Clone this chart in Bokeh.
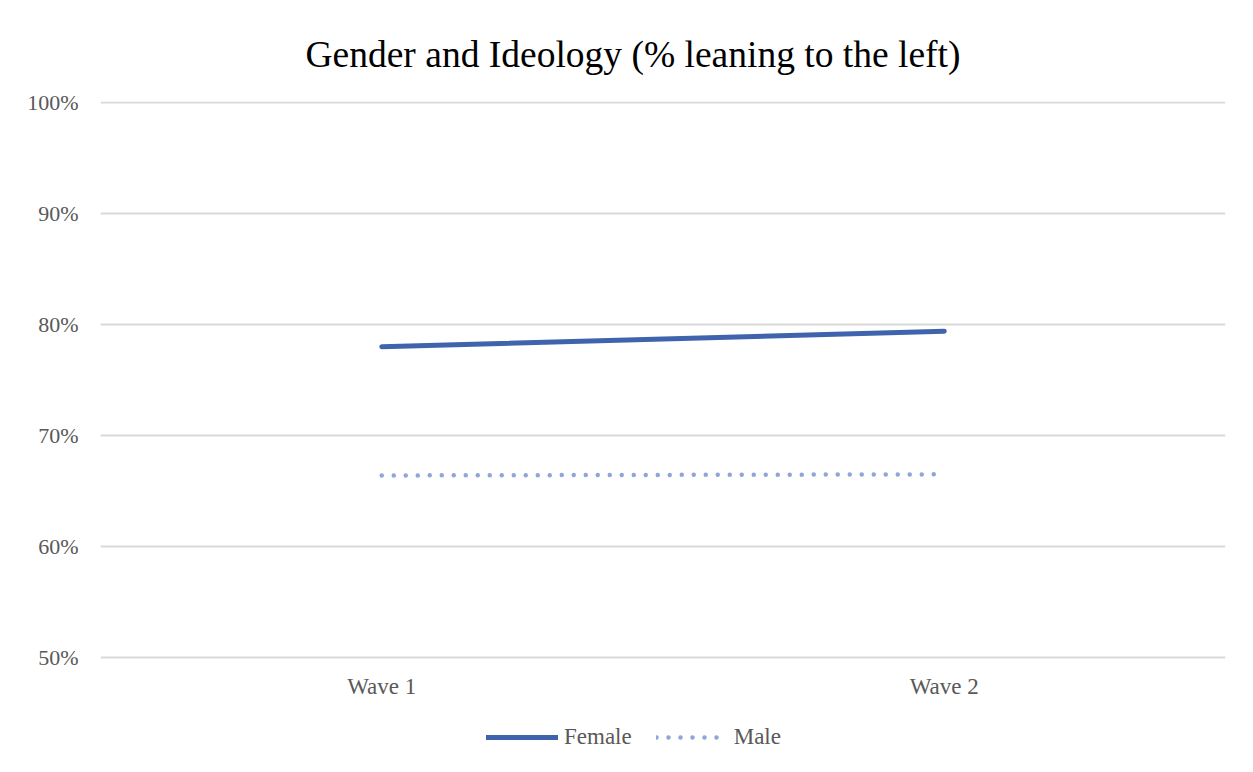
from bokeh.plotting import figure
from bokeh.models import Range1d, FixedTicker, NumeralTickFormatter, Legend, LegendItem, ColumnDataSource
from bokeh.core.properties import value
from bokeh.embed import file_html
from bokeh.resources import INLINE

waves = ["Wave 1", "Wave 2"]
female = [0.780, 0.794]
male = [0.664, 0.665]
y_ticks = [0.5, 0.6, 0.7, 0.8, 0.9, 1.0]
y_min, y_max = 0.5, 1.0

FONT = "Liberation Serif"
GRID = "#d9d9d9"
TXT = "#595959"

# frame extends below the 50% line so the category labels and legend fit inside it
p = figure(frame_width=1125, frame_height=671, x_range=waves,
           y_range=Range1d(0.3964, 1.0009),
           output_backend="svg", toolbar_location=None,
           min_border_left=100, min_border_right=28, min_border_top=101, min_border_bottom=0)
p.x_range.range_padding = 0

p.title.text = "Gender and Ideology (% leaning to the left)"
p.title.align = "left"
p.title.offset = 205
p.title.text_font = FONT
p.title.text_font_size = "37.5px"
p.title.text_font_style = "normal"
p.title.text_color = "#000000"
p.title.standoff = 54

p.outline_line_color = None
p.xgrid.grid_line_color = None
p.ygrid.grid_line_color = GRID
p.ygrid.grid_line_width = 2

p.xaxis.visible = False
p.yaxis.ticker = FixedTicker(ticks=y_ticks)
p.yaxis.formatter = NumeralTickFormatter(format="0%")
ax = p.yaxis[0]
ax.axis_line_color = None
ax.major_tick_line_color = None
ax.minor_tick_line_color = None
ax.major_tick_out = 0
ax.major_tick_in = 0
ax.major_label_text_font = FONT
ax.major_label_text_color = TXT
ax.major_label_text_font_size = "22px"
ax.major_label_standoff = 22

# category labels under the 50% line
cat_src = ColumnDataSource(dict(x=waves, y=[y_min] * len(waves), t=waves))
p.text(x="x", y="y", text="t", source=cat_src, y_offset=29,
       text_align="center", text_baseline="middle",
       text_font=value(FONT), text_font_size="23px", text_color=TXT)

r_f = p.line(waves, female, line_color="#3f64ad", line_width=5, line_cap="round")
r_m = p.line(waves, male, line_color="#8fa6d8", line_width=4.5, line_cap="round",
             line_dash="0 12")

legend = Legend(items=[LegendItem(label="Female", renderers=[r_f]),
                       LegendItem(label="Male", renderers=[r_m])],
                orientation="horizontal", location=(386, 22),
                glyph_width=72, glyph_height=20, label_standoff=6, spacing=24,
                label_text_font=FONT, label_text_font_size="23px", label_text_color=TXT,
                border_line_color=None, background_fill_alpha=0, padding=0, margin=0)
p.add_layout(legend)

open("out.html", "w").write(file_html(p, INLINE))
